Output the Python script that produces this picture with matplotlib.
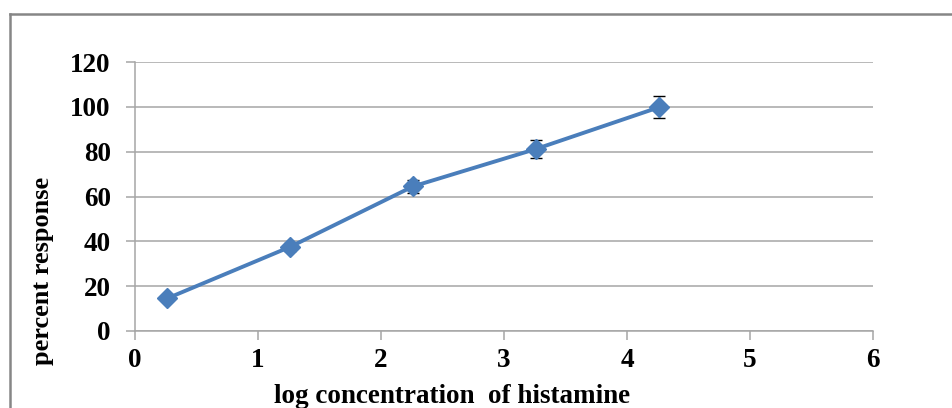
import matplotlib
matplotlib.use("Agg")
import matplotlib.pyplot as plt
from matplotlib.lines import Line2D

# data
log_conc = [0.26, 1.26, 2.26, 3.26, 4.26]
percent = [14.5, 37.5, 64.5, 81.2, 99.8]
err = [1.2, 1.8, 3.0, 4.2, 5.0]

x_ticks = [0, 1, 2, 3, 4, 5, 6]
y_ticks = [0, 20, 40, 60, 80, 100, 120]

plt.rcParams['font.family'] = ['Liberation Serif', 'DejaVu Serif']
plt.rcParams['font.weight'] = 'bold'

fig = plt.figure(figsize=(9.52, 4.08), dpi=100)
ax = fig.add_axes([135 / 952, 1 - 331 / 408, (873 - 135) / 952, (331 - 62) / 408])

grid_col = '#a6a6a6'
ax.set_xlim(0, 6)
ax.set_ylim(0, 120)
ax.set_xticks(x_ticks)
ax.set_yticks(y_ticks)
ax.yaxis.grid(True, color=grid_col, linewidth=1.1)
ax.set_axisbelow(True)

for side in ['top', 'right']:
    ax.spines[side].set_visible(False)
for side in ['left', 'bottom']:
    ax.spines[side].set_color(grid_col)
    ax.spines[side].set_linewidth(1.1)

ax.tick_params(axis='both', direction='out', length=6.5, width=1.1, color=grid_col,
               labelsize=19.5)
ax.tick_params(axis='y', pad=11)
ax.tick_params(axis='x', pad=6)
for lab in ax.get_xticklabels() + ax.get_yticklabels():
    lab.set_fontweight('bold')

ax.errorbar(log_conc, percent, yerr=err, fmt='none', ecolor='black', elinewidth=1.0,
            capsize=4.5, capthick=1.0, zorder=2)
ax.plot(log_conc, percent, color='#4a7ebb', linewidth=2.8, marker='D', markersize=10,
        markerfacecolor='#4a7ebb', markeredgecolor='#4a7ebb', zorder=3)

ax.set_xlabel('log concentration  of histamine', fontsize=19.5, fontweight='bold')
ax.set_ylabel('percent response', fontsize=19, fontweight='bold')
ax.xaxis.set_label_coords((452 - 135) / 738, (331 - 384) / 269)
ax.yaxis.set_label_coords((54 - 135) / 738, (331 - 271) / 269)

# chart-area border (top and left visible, rest cut off)
fig.add_artist(Line2D([10 / 952, 10 / 952], [-0.05, 1 - 14 / 408], transform=fig.transFigure,
                      color='#868686', linewidth=1.8))
fig.add_artist(Line2D([10 / 952, 1.05], [1 - 14 / 408, 1 - 14 / 408], transform=fig.transFigure,
                      color='#868686', linewidth=1.8))

fig.savefig('out.png', dpi=100)
